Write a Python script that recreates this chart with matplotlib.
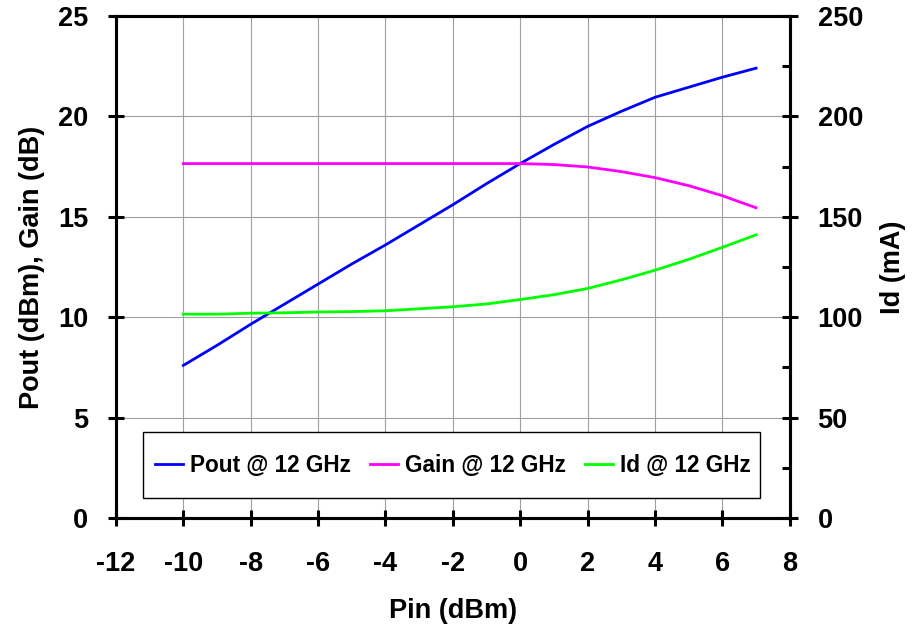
import numpy as np
import matplotlib.pyplot as plt
from matplotlib.patches import Rectangle
from matplotlib.ticker import MultipleLocator

pin = [-10, -9, -8, -7, -6, -5, -4, -3, -2, -1, 0, 1, 2, 3, 4, 5, 6, 7]
pout = [7.6, 8.6, 9.65, 10.65, 11.65, 12.65, 13.6, 14.6, 15.6, 16.65, 17.65,
        18.6, 19.5, 20.25, 20.95, 21.45, 21.95, 22.4]
gain = [17.65, 17.65, 17.65, 17.65, 17.65, 17.65, 17.65, 17.65, 17.65, 17.65, 17.65,
        17.6, 17.48, 17.25, 16.95, 16.55, 16.05, 15.45]
idd = [101.5, 101.5, 102.0, 102.2, 102.6, 102.8, 103.2, 104.2, 105.2, 106.6, 108.8,
       111.2, 114.3, 118.6, 123.4, 128.8, 134.8, 141.0]

plt.rcParams["font.family"] = ["Liberation Sans", "DejaVu Sans"]
plt.rcParams["font.weight"] = "bold"
plt.rcParams["axes.unicode_minus"] = False

fig = plt.figure(figsize=(9.13, 6.38), dpi=100)
ax = fig.add_axes([0.127, 0.188, 0.738, 0.787])
ax2 = ax.twinx()

l1, = ax.plot(pin, pout, color="#0000ff", lw=2.0, label="Pout @ 12 GHz")
l2, = ax.plot(pin, gain, color="#ff00ff", lw=2.0, label="Gain @ 12 GHz")
l3, = ax2.plot(pin, idd, color="#00ff00", lw=2.0, label="Id @ 12 GHz")

ax.set_xlim(-12, 8)
ax.set_ylim(0, 25)
ax2.set_ylim(0, 250)
ax.xaxis.set_major_locator(MultipleLocator(2))
ax.yaxis.set_major_locator(MultipleLocator(5))
ax2.yaxis.set_major_locator(MultipleLocator(50))
ax2.yaxis.set_minor_locator(MultipleLocator(25))

ax.grid(True, color="#a0a0a0", lw=0.8)
ax.set_axisbelow(True)

for a in (ax, ax2):
    for s in a.spines.values():
        s.set_linewidth(2.2)

ax.tick_params(axis="both", which="major", direction="inout", length=12, width=2.2,
               labelsize=19.5, pad=14)
ax.tick_params(axis="x", pad=18)
ax2.tick_params(axis="y", which="major", direction="inout", length=12, width=2.2,
                labelsize=19.5, pad=14)
ax2.tick_params(axis="y", which="minor", direction="in", length=6, width=2.2)

ax.set_xlabel("Pin (dBm)", fontsize=19.5, fontweight="bold", labelpad=15)
ax.set_ylabel("Pout (dBm), Gain (dB)", fontsize=19.5, fontweight="bold", labelpad=9)
ax2.set_ylabel("Id (mA)", fontsize=19.5, fontweight="bold", labelpad=12)

# legend box drawn by hand so the padding matches the original
ax2.add_patch(Rectangle((0.040, 0.040), 0.9155, 0.1315, transform=ax2.transAxes,
                        facecolor="white", edgecolor="black", lw=1.0, zorder=4))
leg = ax2.legend(handles=[l1, l2, l3], ncol=3, loc="center left",
                 bbox_to_anchor=(0.058, 0.104), frameon=False,
                 fontsize=16.3, handlelength=1.24, handletextpad=0.3,
                 columnspacing=0.84, borderpad=0, borderaxespad=0)
leg.set_zorder(5)

fig.savefig("out.png", dpi=100)
